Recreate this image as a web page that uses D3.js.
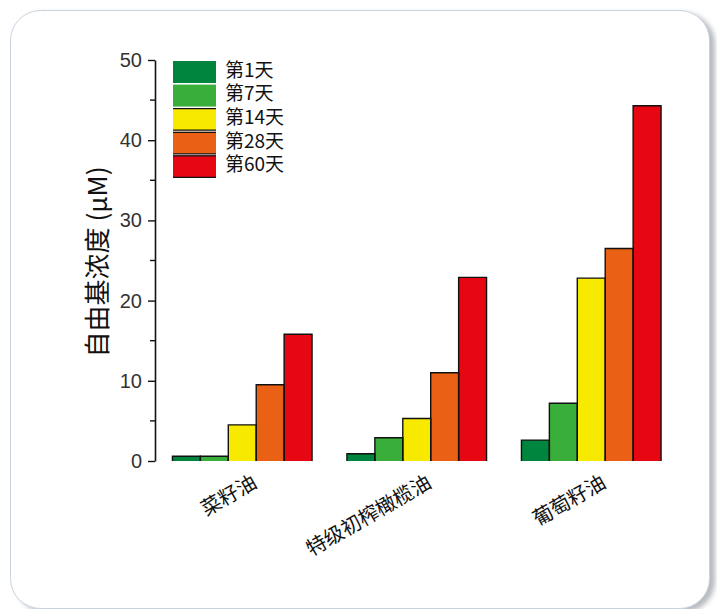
<!DOCTYPE html>
<html><head><meta charset="utf-8">
<script src="https://cdn.jsdelivr.net/npm/d3@7/dist/d3.min.js"></script>
<style>html,body{margin:0;padding:0;background:#fff;}svg{display:block;}</style>
</head><body>
<svg id="c" width="717" height="609"></svg>
<script>
const categories = ["菜籽油", "特级初榨橄榄油", "葡萄籽油"];
const seriesNames = ["第1天", "第7天", "第14天", "第28天", "第60天"];
const day1  = [0.6, 0.9, 2.6];
const day7  = [0.6, 2.9, 7.2];
const day14 = [4.5, 5.3, 22.8];
const day28 = [9.5, 11.0, 26.5];
const day60 = [15.8, 22.9, 44.3];
const yTicks = [0, 10, 20, 30, 40, 50];
const yMinorTicks = [5, 15, 25, 35, 45];
const yLabel = "自由基浓度 (μM)";

const seriesValues = [day1, day7, day14, day28, day60];
const colors = ["#00853e", "#3aae3a", "#f8e900", "#ea6015", "#e60712"];

const svg = d3.select("#c");
const defs = svg.append("defs");
const f = defs.append("filter").attr("id","sh").attr("x","-5%").attr("y","-5%").attr("width","115%").attr("height","115%");
f.append("feDropShadow").attr("dx",5).attr("dy",3).attr("stdDeviation",2.5).attr("flood-color","#8f959b").attr("flood-opacity",0.65);

svg.append("rect").attr("x",10.5).attr("y",10.5).attr("width",699).attr("height",598).attr("rx",30)
  .attr("fill","#fff").attr("stroke","#c8d3df").attr("stroke-width",1).attr("filter","url(#sh)");

const axisX = 155, yTop = 60, yBot = 461;
const x = d3.scaleBand().domain(categories).range([axisX, 678.5]).paddingInner(0.2).paddingOuter(0.1);
const xs = d3.scaleBand().domain(seriesNames).range([0, x.bandwidth()]).padding(0);
const y = d3.scaleLinear().domain([0, 50]).range([yBot, yTop]);

// bars
const g = svg.append("g");
categories.forEach((cat, ci) => {
  seriesNames.forEach((s, si) => {
    const v = seriesValues[si][ci];
    const x0 = x(cat) + xs(s), w = xs.bandwidth();
    g.append("rect").attr("x", x0).attr("y", y(v)).attr("width", w).attr("height", y(0) - y(v))
      .attr("fill", colors[si]);
  });
  seriesNames.forEach((s, si) => {
    const v = seriesValues[si][ci];
    const x0 = x(cat) + xs(s), w = xs.bandwidth();
    const p = d3.path();
    p.moveTo(x0, y(0)); p.lineTo(x0, y(v)); p.lineTo(x0 + w, y(v)); p.lineTo(x0 + w, y(0));
    g.append("path").attr("d", p.toString()).attr("fill","none").attr("stroke","#111").attr("stroke-width",1.4);
  });
});

// y axis
const yAxis = d3.axisLeft(y).tickValues(yTicks).tickSize(7).tickPadding(6).tickSizeOuter(0);
const ag = svg.append("g").attr("transform", `translate(${axisX},0)`).call(yAxis);
ag.select(".domain").attr("stroke","#111").attr("stroke-width",1.6);
ag.selectAll(".tick line").attr("stroke","#111").attr("stroke-width",1.4);
ag.selectAll(".tick text").attr("font-family","'Liberation Sans', Arial, sans-serif").attr("font-size",20).attr("fill","#333");
const mg = svg.append("g").attr("transform", `translate(${axisX},0)`);
mg.selectAll("line").data(yMinorTicks).join("line")
  .attr("x1",-5).attr("x2",0).attr("y1",d=>y(d)).attr("y2",d=>y(d)).attr("stroke","#111").attr("stroke-width",1.4);

// y label
svg.append("text").attr("transform", `translate(107,${262}) rotate(-90)`)
  .attr("text-anchor","middle").attr("font-family","'Noto Sans CJK SC', sans-serif")
  .attr("font-size",26).attr("fill","#111").text(yLabel);

// x labels
svg.append("g").selectAll("text").data(categories).join("text")
  .attr("transform", d => `translate(${x(d) + x.bandwidth()/2 + 10},${476}) rotate(-30)`)
  .attr("text-anchor","end").attr("font-family","'Noto Sans CJK SC', sans-serif")
  .attr("font-size",20).attr("fill","#111").attr("dy","0.6em").text(d => d);

// legend
const lg = svg.append("g").attr("transform","translate(173,61)");
seriesNames.forEach((s, i) => {
  const yy = i * 23.6;
  lg.append("rect").attr("x",0).attr("y",yy).attr("width",43).attr("height",22).attr("fill",colors[i]);
  if (i >= 2) {
    lg.append("line").attr("x1",0).attr("x2",43).attr("y1",yy+0.5).attr("y2",yy+0.5).attr("stroke","#111").attr("stroke-width",1.3);
    lg.append("line").attr("x1",0).attr("x2",43).attr("y1",yy+22).attr("y2",yy+22).attr("stroke","#111").attr("stroke-width",1.3);
  }
  lg.append("text").attr("x",52).attr("y",yy+10).attr("dy","0.3em").attr("font-family","'Noto Sans CJK SC', sans-serif")
    .attr("font-size",19).attr("fill","#111").text(s);
});
</script>
</body></html>
